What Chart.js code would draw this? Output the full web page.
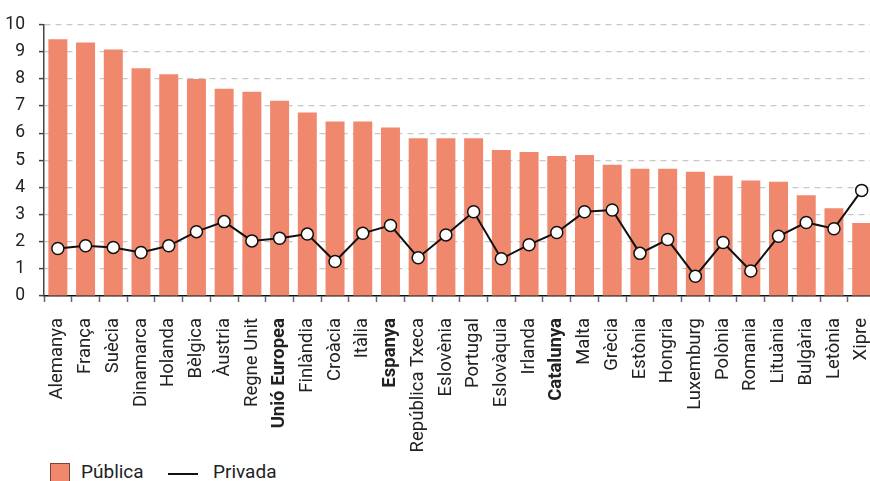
<!DOCTYPE html>
<html lang="ca">

<head>
    <meta charset="utf-8">
    <title>Despesa pública i privada</title>
    <script src="https://cdn.jsdelivr.net/npm/chart.js@4.4.0/dist/chart.umd.min.js"></script>
    <style>
        body {
            margin: 0;
            overflow: hidden;
            background: #ffffff;
            font-family: Roboto, sans-serif;
        }

        #myChart {
            position: absolute;
            left: 0;
            top: 0;
        }

        .leg {
            position: absolute;
            font-size: 19px;
            line-height: 19px;
            color: #222;
            white-space: nowrap;
        }

        .box {
            position: absolute;
            left: 50px;
            top: 463px;
            width: 18px;
            height: 20px;
            background: #f0886e;
            border: 1px solid #7a4535;
        }

        .line {
            position: absolute;
            left: 168px;
            top: 473px;
            width: 30px;
            height: 2px;
            background: #111;
        }
    </style>
</head>

<body>
    <canvas id="myChart" width="900" height="458"></canvas>

    <!-- llegenda -->
    <div class="box"></div>
    <span class="leg" style="left: 81px; top: 462px;">Pública</span>
    <div class="line"></div>
    <span class="leg" style="left: 213px; top: 462px;">Privada</span>

    <script>
        // països, ordenats per despesa pública
        const paisos = ['Alemanya', 'França', 'Suècia', 'Dinamarca', 'Holanda', 'Bèlgica', 'Àustria',
            'Regne Unit', 'Unió Europea', 'Finlàndia', 'Croàcia', 'Itàlia', 'Espanya', 'República Txeca',
            'Eslovènia', 'Portugal', 'Eslovàquia', 'Irlanda', 'Catalunya', 'Malta', 'Grècia', 'Estònia',
            'Hongria', 'Luxemburg', 'Polònia', 'Romania', 'Lituània', 'Bulgària', 'Letònia', 'Xipre']

        const publica = [9.46, 9.34, 9.08, 8.39, 8.17, 7.99, 7.63, 7.52, 7.19, 6.76, 6.43, 6.43, 6.21, 5.81,
            5.81, 5.81, 5.38, 5.30, 5.16, 5.19, 4.83, 4.69, 4.69, 4.58, 4.43, 4.25, 4.21, 3.71, 3.23, 2.69]

        const privada = [1.75, 1.85, 1.79, 1.60, 1.85, 2.37, 2.74, 2.03, 2.13, 2.28, 1.27, 2.31, 2.60, 1.41,
            2.25, 3.10, 1.37, 1.89, 2.34, 3.10, 3.17, 1.57, 2.08, 0.73, 1.97, 0.92, 2.20, 2.71, 2.48, 3.89]

        const y_ticks = [0, 1, 2, 3, 4, 5, 6, 7, 8, 9, 10]

        // etiquetes en negreta
        const destacats = ['Unió Europea', 'Espanya', 'Catalunya']

        const data = {
            labels: paisos,
            datasets: [{
                type: 'line',
                label: 'Privada',
                data: privada,
                borderColor: '#111111',
                borderWidth: 2,
                pointRadius: 6,
                pointBorderWidth: 1.5,
                pointBackgroundColor: '#ffffff',
                pointBorderColor: '#111111',
                tension: 0,
                order: 0
            }, {
                type: 'bar',
                label: 'Pública',
                data: publica,
                backgroundColor: '#f0886e',
                categoryPercentage: 1,
                barPercentage: 0.685,
                order: 1
            }]
        }

        const config = {
            type: 'bar',
            data: data,
            options: {
                responsive: false,
                animation: false,
                layout: {
                    padding: { top: 19, right: 0, left: 0, bottom: 0 }
                },
                plugins: {
                    legend: { display: false },
                    tooltip: { enabled: false }
                },
                scales: {
                    x: {
                        afterFit: (scale) => { scale.height = 162 },
                        grid: {
                            drawOnChartArea: false,
                            drawTicks: true,
                            tickLength: 6,
                            tickColor: '#666666',
                            tickWidth: 1.5
                        },
                        border: { color: '#111111', width: 1.5 },
                        ticks: {
                            autoSkip: false,
                            maxRotation: 90,
                            minRotation: 90,
                            padding: 16,
                            color: '#222222',
                            font: (ctx) => ({
                                family: 'Roboto',
                                size: 18.5,
                                weight: destacats.includes(paisos[ctx.index]) ? 'bold' : 'normal'
                            })
                        }
                    },
                    y: {
                        min: 0,
                        max: 10,
                        afterFit: (scale) => { scale.width = 44 },
                        afterBuildTicks: (scale) => {
                            scale.ticks = y_ticks.map(v => ({ value: v }))
                        },
                        grid: {
                            color: '#c8c8c8',
                            lineWidth: 1.2,
                            drawTicks: true,
                            tickLength: 5,
                            tickColor: '#444444',
                            tickWidth: 1.5,
                            tickBorderDash: []
                        },
                        border: { color: '#444444', width: 1.5, dash: [6, 5] },
                        ticks: {
                            padding: 14,
                            color: '#222222',
                            font: { family: 'Roboto', size: 17.5 }
                        }
                    }
                }
            }
        }

        const myChart = new Chart(document.getElementById('myChart'), config)
    </script>
</body>

</html>
